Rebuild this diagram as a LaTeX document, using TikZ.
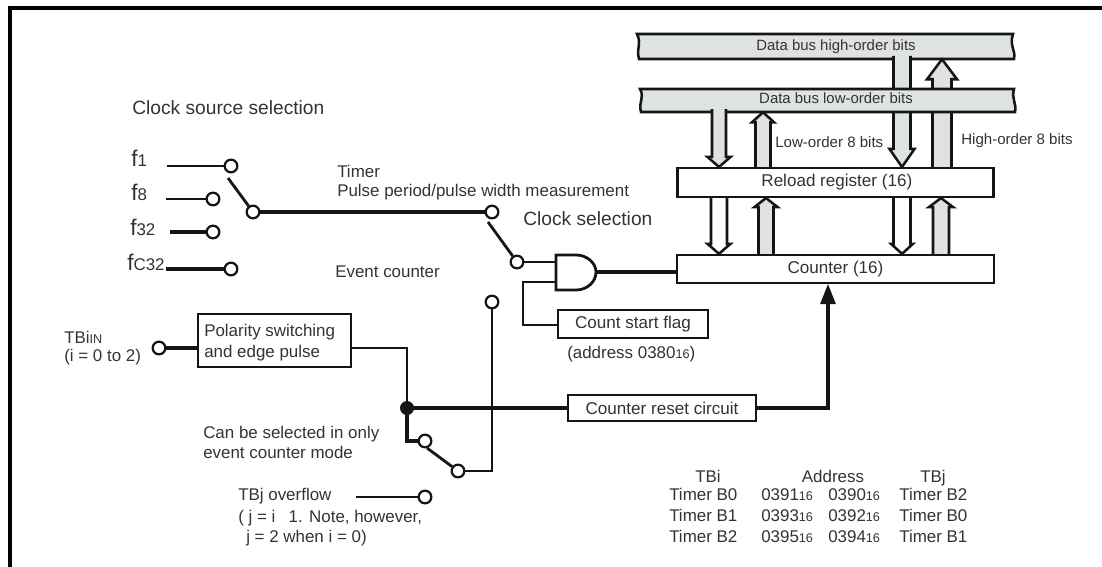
\documentclass[tikz,border=0pt]{standalone}
\usepackage{fontspec}
\setmainfont{Liberation Sans}
\usetikzlibrary{calc}
\definecolor{busgrey}{HTML}{DFE3E0}
\definecolor{ink}{HTML}{333333}
\definecolor{wireink}{HTML}{151515}
\newcommand{\subs}[1]{{\fontsize{9.5}{11}\selectfont #1}}
\newcommand{\fsub}[1]{{\fontsize{17}{17}\selectfont f}{\fontsize{12.7}{14}\selectfont #1}}
\newcommand{\blockarrow}[8]{% style, x-coord, from, to, half width, head half width, head length, dir
  \filldraw[#1] ($(#2 |- #3)+(-#5,0)$) -- ($(#2 |- #4)+(-#5,#7*#8)$) -- ($(#2 |- #4)+(-#6,#7*#8)$)
    -- (#2 |- #4) -- ($(#2 |- #4)+(#6,#7*#8)$) -- ($(#2 |- #4)+(#5,#7*#8)$) -- ($(#2 |- #3)+(#5,0)$);
}
\tikzset{
  x=0.75pt,y=-0.75pt,
  txt/.style={inner sep=0pt,anchor=base west,text=ink,font=\fontsize{12.7}{15}\selectfont},
  midtxt/.style={txt,font=\fontsize{11.3}{14}\selectfont},
  bigtxt/.style={txt,font=\fontsize{14.4}{17}\selectfont},
  boxed/.style={draw=wireink,line width=1.8pt,fill=white,inner sep=0pt,text=ink,font=\fontsize{12.8}{15}\selectfont},
  term/.style={circle,draw=wireink,line width=1.7pt,fill=white,minimum size=9.5pt,inner sep=0pt},
  wire/.style={draw=wireink,line width=2.1pt},
  thin wire/.style={draw=wireink,line width=1.5pt},
  heavy/.style={draw=wireink,line width=2.35pt},
  greyarrow/.style={draw=wireink,line width=1.9pt,fill=busgrey,line join=miter},
  openarrow/.style={draw=wireink,line width=1.9pt,fill=white,line join=miter},
  bus/.style={draw=wireink,line width=1.9pt,fill=busgrey},
  buslabel/.style={inner sep=0pt,text=ink,font=\fontsize{11.2}{13}\selectfont}
}
\begin{document}
\begin{tikzpicture}
\useasboundingbox (0,0) rectangle (1102,567);
% frame
\draw[black,line width=2.6pt] (1102,8) -- (10,8) -- (10,567);
% x positions of the block arrows
\coordinate (a1) at (719,0);
\coordinate (a2) at (763,0);
\coordinate (a3) at (902,0);
\coordinate (a4) at (942,0);
\coordinate (a5) at (719,0);
\coordinate (a6) at (766,0);
\coordinate (a7) at (902,0);
\coordinate (a8) at (941,0);
% boxes
\node[boxed,minimum width=237pt,minimum height=21.5pt] (reload) at (835.5,182.5) {};
\node[boxed,minimum width=238pt,minimum height=21pt] (counter) at (835.5,269) {};
\node[boxed,minimum width=112.5pt,minimum height=21pt] (flag) at (633,324) {Count start flag};
\node[boxed,minimum width=114.5pt,minimum height=39.5pt] (pol) at (274.5,340.5) {};
\node[txt] (poltxt1) at (204,336) {Polarity switching};
\node[txt] (poltxt2) at (204,357) {and edge pulse};
\node[boxed,minimum width=141pt,minimum height=19.5pt] (reset) at (662,408) {Counter reset circuit};
% high bus
\draw[bus] (637,34) .. controls (642,44) and (636,48) .. (639,59) -- (1014,59) .. controls (1016,50) and (1009,46) .. (1013,34) -- cycle;
\node[buslabel,minimum height=18.75pt] (bh) at (836,46.5) {Data bus high-order bits};
\coordinate (bhs) at (902,56);
\blockarrow{greyarrow}{a3}{bhs}{reload.north}{8.5}{12.5}{18}{-1}
\blockarrow{greyarrow}{a4}{reload.north}{bh.south}{9.5}{15}{20}{1}
% low bus
\draw[bus] (640,89) .. controls (645,98) and (638,102) .. (641,112) -- (1015,112) .. controls (1017,104) and (1011,98) .. (1014,89) -- cycle;
\node[buslabel,minimum height=17.25pt] (bl) at (836,100.5) {\raisebox{3pt}{Data bus low-order bits}};
\coordinate (bls) at (719,109);
\blockarrow{greyarrow}{a1}{bls}{reload.north}{7}{11.5}{10}{-1}
\blockarrow{greyarrow}{a2}{reload.north}{bl.south}{7.5}{11}{10}{1}
\blockarrow{openarrow}{a5}{reload.south}{counter.north}{8}{11.5}{10}{-1}
\blockarrow{greyarrow}{a6}{counter.north}{reload.south}{7.5}{11.5}{9}{1}
\blockarrow{openarrow}{a7}{reload.south}{counter.north}{8.5}{11}{10}{-1}
\blockarrow{greyarrow}{a8}{counter.north}{reload.south}{8}{12}{9}{1}
% box faces above the arrow ends
\node[boxed,minimum width=237pt,minimum height=21.5pt] (reloadtop) at (reload) {\hspace*{2pt}Reload register (16)};
\node[boxed,minimum width=238pt,minimum height=21pt] (countertop) at (counter) {Counter (16)};
% labels
\node[bigtxt] (t1) at (132,114.5) {Clock source selection};
\node[txt] (f1t) at (131,166) {\fsub{1}};
\node[txt] (f8t) at (131,200.5) {\fsub{8}};
\node[txt] (f32t) at (130,235) {\fsub{32}};
\node[txt] (fc32t) at (127,270) {\fsub{C32}};
\node[txt] (t2) at (337,177) {Timer};
\node[txt] (t3) at (337,196) {Pulse period/pulse width measurement};
\node[bigtxt] (t4) at (523,225) {Clock selection};
\node[txt] (t5) at (335,277) {Event counter};
\node[midtxt] (t6) at (775,147) {Low-order 8 bits};
\node[midtxt] (t7) at (961,144) {High-order 8 bits};
\node[txt] (t8) at (64,343) {TBi\subs{IN}};
\node[txt] (t9) at (64,361) {(i = 0 to 2)};
\node[txt] (t10) at (203,438) {Can be selected in only};
\node[txt] (t11) at (203,458) {event counter mode};
\node[txt] (t12) at (238,500) {TBj overflow};
\node[txt] (t13) at (238,522) {( j = i\hspace{10pt}1. Note, however,};
\node[txt] (t14) at (246,542) {j = 2 when i = 0)};
\node[txt] (t15) at (567,358) {(address 0380\subs{16})};
% table
\node[txt,anchor=base] (h1) at (708,482) {TBi};
\node[txt,anchor=base] (h2) at (833,482) {Address};
\node[txt,anchor=base] (h3) at (933,482) {TBj};
\node[txt] (r11) at (669,500) {Timer B0};
\node[txt] (r12) at (761,500) {0391\subs{16}};
\node[txt] (r13) at (828,500) {0390\subs{16}};
\node[txt] (r14) at (899,500) {Timer B2};
\node[txt] (r21) at (669,521) {Timer B1};
\node[txt] (r22) at (761,521) {0393\subs{16}};
\node[txt] (r23) at (828,521) {0392\subs{16}};
\node[txt] (r24) at (899,521) {Timer B0};
\node[txt] (r31) at (669,542) {Timer B2};
\node[txt] (r32) at (761,542) {0395\subs{16}};
\node[txt] (r33) at (828,542) {0394\subs{16}};
\node[txt] (r34) at (899,542) {Timer B1};
% free ends and bends
\coordinate (f1e) at (167,166);
\coordinate (f8e) at (166,199);
\coordinate (f32e) at (170,232);
\coordinate (fc32e) at (166,269);
\coordinate (ovfe) at (356,497);
\coordinate (j) at (407,408);
\coordinate (arm1a) at (228,178);
\coordinate (arm2a) at (488,222);
\coordinate (arm3a) at (427,448);
\coordinate (k1) at (523,282);
\coordinate (k2) at (523,325);
\coordinate (k3) at (492,471);
\coordinate (k4) at (407,348);
\coordinate (k5) at (407,441);
\coordinate (k6) at (828,408);
% terminals
\node[term] (s1) at (425,441) {};
\node[term] (s2) at (458,471) {};
\node[term] (ovf) at (425,497) {};
\node[term] (c1) at (231,166) {};
\node[term] (c8) at (213,199) {};
\node[term] (c32) at (213,232) {};
\node[term] (cc32) at (231,269) {};
\node[term] (csw) at (253,212) {};
\node[term] (tm) at (492,212) {};
\node[term] (sel) at (517,262) {};
\node[term] (ev) at (492,302) {};
\node[term] (tbi) at (159,348) {};
% connectors
\draw[thin wire] (f1e) -- (c1);
\draw[thin wire] (f8e) -- (c8);
\draw[heavy] (f32e) -- (c32);
\draw[heavy] (fc32e) -- (cc32);
\draw[wire] (arm1a) -- (csw);
\draw[heavy] (csw) -- (tm);
\draw[wire] (arm2a) -- (sel);
\draw[wire] (s2) -- (k3) -- (ev);
\draw[wire] (arm3a) -- (s2);
\draw[thin wire] (ovfe) -- (ovf);
\draw[heavy] (tbi) -- (tbi -| pol.west);
\draw[wire] (pol.east |- k4) -- (k4) -- (j);
\draw[heavy] (j) -- (k5) -- (s1);
\draw[heavy] (j) -- (reset);
\draw[heavy] (reset) -- (k6) -- ($(counter.south -| k6)+(0,10)$);
\fill[wireink] (counter.south -| k6) -- ++(-8,20) -- ++(16,0) -- cycle;
\fill[wireink] (j) circle (7);
% AND gate
\coordinate (and1) at (556,255);
\coordinate (and2) at (556,290);
\coordinate (andout) at (596,272);
\filldraw[draw=wireink,line width=2.1pt,fill=white] (and1) -- (576,255) .. controls (587,255) and (596,263) .. (andout) .. controls (596,282) and (587,290) .. (576,290) -- (and2) -- cycle;
\draw[wire] (sel) -- (and1 |- sel);
\draw[wire] (and1 |- k1) -- (k1) -- (k2) -- (flag.west |- k2);
\draw[heavy] (andout) -- (counter.west |- andout);
\end{tikzpicture}
\end{document}
